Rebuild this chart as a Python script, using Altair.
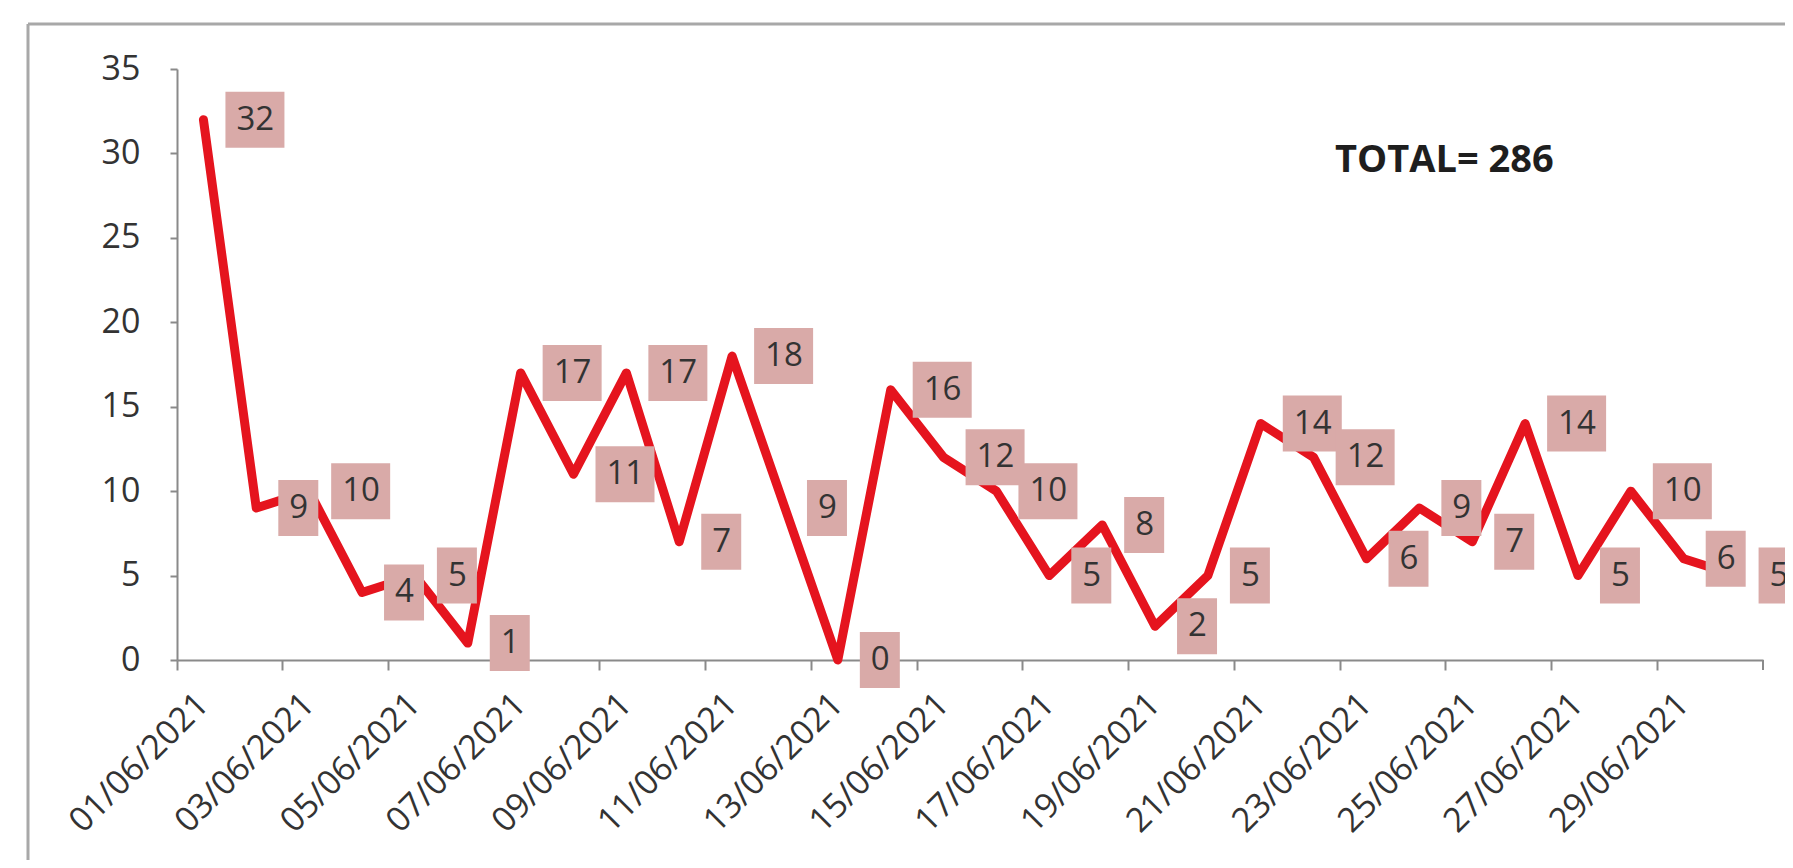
import altair as alt
import pandas as pd

# ---- data ----
dates = [
    "01/06/2021", "02/06/2021", "03/06/2021", "04/06/2021", "05/06/2021",
    "06/06/2021", "07/06/2021", "08/06/2021", "09/06/2021", "10/06/2021",
    "11/06/2021", "12/06/2021", "13/06/2021", "14/06/2021", "15/06/2021",
    "16/06/2021", "17/06/2021", "18/06/2021", "19/06/2021", "20/06/2021",
    "21/06/2021", "22/06/2021", "23/06/2021", "24/06/2021", "25/06/2021",
    "26/06/2021", "27/06/2021", "28/06/2021", "29/06/2021", "30/06/2021",
]
cases = [32, 9, 10, 4, 5, 1, 17, 11, 17, 7, 18, 9, 0, 16, 12,
         10, 5, 8, 2, 5, 14, 12, 6, 9, 7, 14, 5, 10, 6, 5]
label_dates = [
    "01/06/2021", "03/06/2021", "05/06/2021", "07/06/2021", "09/06/2021",
    "11/06/2021", "13/06/2021", "15/06/2021", "17/06/2021", "19/06/2021",
    "21/06/2021", "23/06/2021", "25/06/2021", "27/06/2021", "29/06/2021",
]
y_ticks = [0, 5, 10, 15, 20, 25, 30, 35]
last_date = ["30/06/2021"]

df = pd.DataFrame({"date": dates, "cases": cases})

# ---- styling ----
W, H = 1586, 591
FONT = "Open Sans"
GRAY = "#8a8a8a"
TXT = "#333333"
RED = "#e5141e"
BOX = "#d9aaa8"

xscale = alt.Scale(type="band", domain=dates, paddingInner=0, paddingOuter=0)
yscale = alt.Scale(domain=[0, 35], nice=False, zero=True)

x_axis = alt.Axis(
    values=label_dates, labelAngle=315, labelAlign="right", labelBaseline="middle",
    labelFont=FONT, labelFontSize=34, labelColor=TXT, labelPadding=29,
    labelOverlap=False, labelLimit=400, tickSize=10, tickWidth=2, tickColor=GRAY,
    domainColor=GRAY, domainWidth=2, bandPosition=0, grid=False,
)
y_axis = alt.Axis(
    values=y_ticks, labelFont=FONT, labelFontSize=34, labelColor=TXT,
    labelPadding=30, tickSize=7, tickWidth=2, tickColor=GRAY,
    domainColor=GRAY, domainWidth=2, grid=False,
)

base = alt.Chart(df)

line = base.mark_line(
    color=RED, strokeWidth=9, strokeJoin="round", strokeCap="round"
).encode(
    x=alt.X("date:O", scale=xscale, title=None, axis=x_axis),
    y=alt.Y("cases:Q", scale=yscale, title=None, axis=y_axis),
)

# label boxes, to the right of each point (symbol path scaled by sqrt(size)/2)
path1 = "M0.786,-1L2.214,-1L2.214,1L0.786,1Z"
path2 = "M0.786,-1L2.893,-1L2.893,1L0.786,1Z"
boxes = base.mark_point(
    filled=True, fill=BOX, opacity=1, strokeWidth=0, size=3136
).encode(
    x=alt.X("date:O", scale=xscale),
    y=alt.Y("cases:Q", scale=yscale),
    shape=alt.when(alt.datum.cases >= 10).then(alt.value(path2)).otherwise(alt.value(path1)),
)

labels = base.mark_text(
    align="left", baseline="middle", dx=33, font=FONT, fontSize=33, color=TXT
).encode(
    x=alt.X("date:O", scale=xscale),
    y=alt.Y("cases:Q", scale=yscale),
    text="cases:Q",
)

total = base.transform_aggregate(
    total="sum(cases)"
).transform_calculate(
    lbl="'TOTAL= ' + datum.total"
).mark_text(
    align="left", baseline="alphabetic", font=FONT, fontSize=38,
    fontWeight="bold", color="#1e1e1e"
).encode(
    x=alt.value(1158), y=alt.value(103), text="lbl:N"
)

end_tick = alt.Chart(pd.DataFrame({"date": last_date})).mark_rule(
    color=GRAY, strokeWidth=2
).encode(
    x=alt.X("date:O", scale=xscale, bandPosition=1),
    y=alt.value(H), y2=alt.value(H + 10),
)

frame_v = alt.Chart(alt.Data(values=[{}])).mark_rule(
    color="#a8a8a8", strokeWidth=3
).encode(x=alt.value(-149), y=alt.value(-45), y2=alt.value(900))
frame_h = alt.Chart(alt.Data(values=[{}])).mark_rule(
    color="#a8a8a8", strokeWidth=3
).encode(x=alt.value(-149), x2=alt.value(1700), y=alt.value(-45))

chart = alt.layer(
    frame_v, frame_h, line, boxes, labels, total, end_tick
).properties(
    width=W, height=H,
    padding={"left": 169, "top": 61, "right": 22, "bottom": 200},
    autosize=alt.AutoSizeParams(type="none"),
    background="white",
).configure_view(strokeWidth=0)

chart.save("out.html", embed_options={"renderer": "svg", "actions": False})
